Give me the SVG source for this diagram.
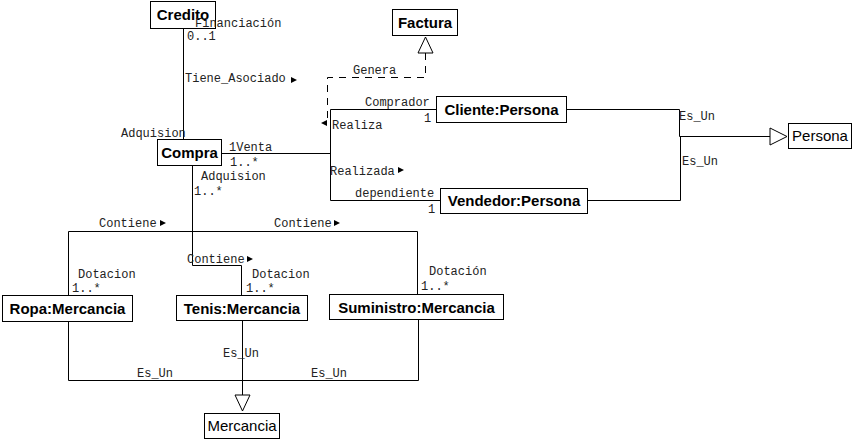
<svg xmlns="http://www.w3.org/2000/svg" width="853" height="442" viewBox="0 0 853 442">
<style>
.box{fill:#fff;stroke:#000;stroke-width:1}
.bt{font-family:"Liberation Sans",Arial,sans-serif;font-weight:bold;font-size:15px;text-anchor:middle;fill:#000}
.rt{font-family:"Liberation Sans",Arial,sans-serif;font-size:15px;text-anchor:middle;fill:#000}
.ln{fill:none;stroke:#000;stroke-width:1}
.dash{fill:none;stroke:#000;stroke-width:1;stroke-dasharray:7 6}
.lb{font-family:"Liberation Mono","Courier New",monospace;font-size:12px;fill:#222}
.ar{fill:#000}
.tri{fill:#fff;stroke:#000;stroke-width:1}
</style>
<rect width="853" height="442" fill="#fff"/>
<g id="connectors">
<path class="ln" d="M183.5,29 V140"/>
<path class="ln" d="M222,153.5 H330.5 M330.5,109.5 V200.5 M330.5,109.5 H436 M330.5,200.5 H440"/>
<path class="dash" d="M425.5,53 V77.5 H327.5 V120"/>
<path class="tri" d="M425.5,37 L418,53 L433,53 Z"/>
<path class="ln" d="M567,109.5 H679.5 V136.5 H770 M588,200.5 H680.5 V136.5"/>
<path class="tri" d="M770,128 L787,136.5 L770,145 Z"/>
<path class="ln" d="M192.5,166 V265.5 H241.5 V295"/>
<path class="ln" d="M68.5,295 V231.5 H417.5 V294"/>
<path class="ln" d="M68.5,322 V380.5 H418.5 V320"/>
<path class="ln" d="M242.5,321 V395"/>
<path class="tri" d="M235,395 L250,395 L242.5,411 Z"/>
<path class="ar" d="M291,77 L297,80 L291,83 Z"/>
<path class="ar" d="M327,120 L321,123 L327,126 Z"/>
<path class="ar" d="M398,167 L404,170 L398,173 Z"/>
<path class="ar" d="M160,220 L166,223 L160,226 Z"/>
<path class="ar" d="M334,220 L340,223 L334,226 Z"/>
<path class="ar" d="M247,256 L253,259 L247,262 Z"/>
</g>
<g id="credito"><rect class="box" x="150.5" y="1.5" width="65" height="27"/><text class="bt" x="183" y="20">Credito</text></g>
<g id="factura"><rect class="box" x="392.5" y="9.5" width="65" height="26"/><text class="bt" x="425" y="28">Factura</text></g>
<g id="compra"><rect class="box" x="157.5" y="139.5" width="64" height="26"/><text class="bt" x="189.5" y="158">Compra</text></g>
<g id="cliente"><rect class="box" x="436.5" y="96.5" width="130" height="26"/><text class="bt" x="501.5" y="115">Cliente:Persona</text></g>
<g id="vendedor"><rect class="box" x="440.5" y="188.5" width="147" height="25"/><text class="bt" x="514" y="206">Vendedor:Persona</text></g>
<g id="persona"><rect class="box" x="788.5" y="123.5" width="63" height="25"/><text class="rt" x="820" y="141">Persona</text></g>
<g id="ropa"><rect class="box" x="2.5" y="295.5" width="130" height="26"/><text class="bt" x="67.5" y="314">Ropa:Mercancia</text></g>
<g id="tenis"><rect class="box" x="176.5" y="295.5" width="131" height="25"/><text class="bt" x="242" y="313.5">Tenis:Mercancia</text></g>
<g id="suministro"><rect class="box" x="329.5" y="294.5" width="174" height="25"/><text class="bt" x="416.5" y="312.5">Suministro:Mercancia</text></g>
<g id="mercancia"><rect class="box" x="204.5" y="413.5" width="75" height="25"/><text class="rt" x="242" y="431">Mercancia</text></g>
<g id="labels">
<text class="lb" x="195" y="27">Financiación</text>
<text class="lb" x="187" y="40">0..1</text>
<text class="lb" x="185" y="82">Tiene_Asociado</text>
<text class="lb" x="353" y="74">Genera</text>
<text class="lb" x="365" y="106">Comprador</text>
<text class="lb" x="424" y="122">1</text>
<text class="lb" x="332" y="129">Realiza</text>
<text class="lb" x="121" y="137">Adquision</text>
<text class="lb" x="229" y="151">1Venta</text>
<text class="lb" x="230" y="166">1..*</text>
<text class="lb" x="201" y="180">Adquision</text>
<text class="lb" x="194" y="195">1..*</text>
<text class="lb" x="330" y="175">Realizada</text>
<text class="lb" x="355" y="197">dependiente</text>
<text class="lb" x="428" y="213">1</text>
<text class="lb" x="679" y="120">Es_Un</text>
<text class="lb" x="682" y="165">Es_Un</text>
<text class="lb" x="99" y="227">Contiene</text>
<text class="lb" x="274" y="227">Contiene</text>
<text class="lb" x="187" y="263">Contiene</text>
<text class="lb" x="78" y="278">Dotacion</text>
<text class="lb" x="72" y="292">1..*</text>
<text class="lb" x="252" y="278">Dotacion</text>
<text class="lb" x="246" y="292">1..*</text>
<text class="lb" x="429" y="275">Dotación</text>
<text class="lb" x="421" y="290">1..*</text>
<text class="lb" x="223" y="357">Es_Un</text>
<text class="lb" x="137" y="377">Es_Un</text>
<text class="lb" x="311" y="377">Es_Un</text>
</g>
</svg>
